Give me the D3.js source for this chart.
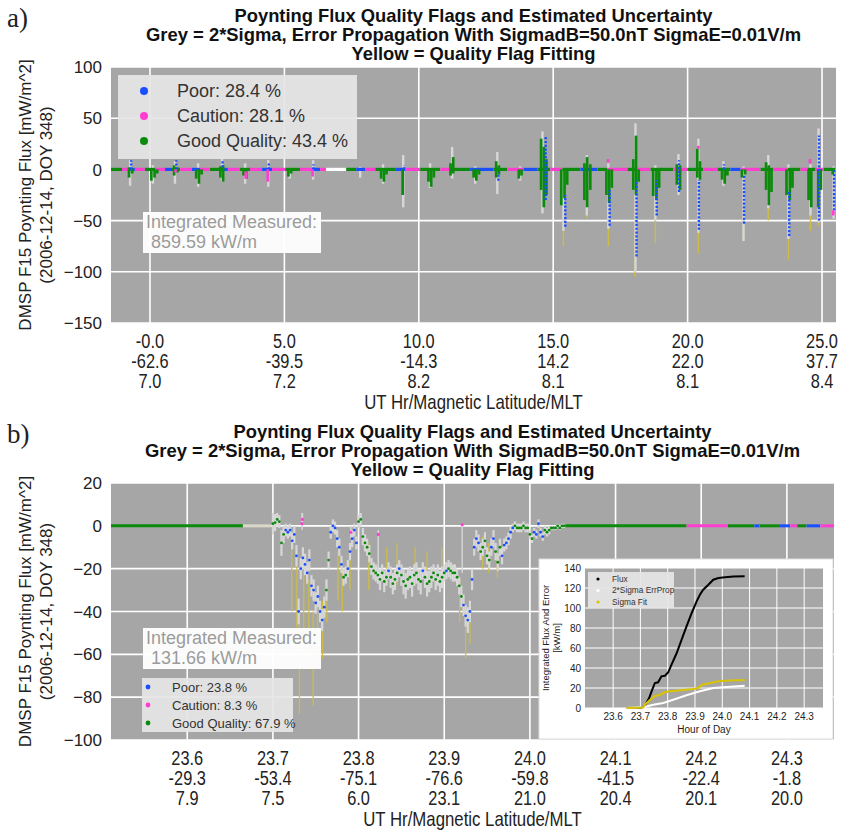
<!DOCTYPE html>
<html><head><meta charset="utf-8">
<script src="https://cdn.jsdelivr.net/npm/d3@7"></script>
<style>
body{margin:0;background:#fff}
text{font-family:"Liberation Sans",Arial,sans-serif}
</style>
</head><body>
<svg id="fig" width="847" height="831"></svg>
<script>
// ---------- shared text ----------
const titleLines = [
  "Poynting Flux Quality Flags and Estimated Uncertainty",
  "Grey = 2*Sigma, Error Propagation With SigmadB=50.0nT SigmaE=0.01V/m",
  "Yellow = Quality Flag Fitting"
];
const yLabelLines = ["DMSP F15 Poynting Flux [mW/m^2]", "(2006-12-14, DOY 348)"];
const xLabel = "UT Hr/Magnetic Latitude/MLT";

// ---------- panel a : full day ----------
const aTicks = [0, 5, 10, 15, 20, 25];
const aTickUT = ["-0.0", "5.0", "10.0", "15.0", "20.0", "25.0"];
const aTickMLat = ["-62.6", "-39.5", "-14.3", "14.2", "22.0", "37.7"];
const aTickMLT = ["7.0", "7.2", "8.2", "8.1", "8.1", "8.4"];
const aYTicks = [100, 50, 0, -50, -100, -150];
const aLegend = ["Poor: 28.4 %", "Caution: 28.1 %", "Good Quality: 43.4 %"];
const aIntegrated = ["Integrated Measured:", "859.59 kW/m"];

// baseline spans along zero: [t0, t1, flag]  flag 0 poor, 1 caution, 2 good, 3 no flag
const aBase = [
 [-1.45,-1.04,2],[-1.04,-0.82,1],[-0.82,-0.56,0],[-0.56,-0.19,1],[-0.19,0.19,2],[0.19,0.56,1],
 [0.56,0.82,0],[0.82,1.12,2],[1.12,1.56,1],[1.56,1.86,0],[1.86,2.23,1],[2.23,2.61,2],
 [2.61,2.90,0],[2.90,3.35,1],[3.35,3.72,2],[3.72,4.17,1],[4.17,4.54,0],[4.54,5.03,1],
 [5.03,5.58,2],[5.58,6.03,1],[6.03,6.33,0],[6.33,6.55,1],[6.55,7.30,3],[7.30,7.67,2],
 [7.67,8.00,0],[8.00,8.38,1],[8.38,9.12,2],[9.12,9.49,0],[9.49,10.05,1],[10.05,10.80,2],
 [10.80,11.17,1],[11.17,11.91,2],[11.91,12.77,0],[12.77,13.29,2],[13.29,13.89,1],[13.89,14.41,0],
 [14.41,14.89,2],[14.89,15.34,1],[15.34,16.01,2],[16.01,16.64,0],[16.64,17.01,2],[17.01,17.76,1],
 [17.76,18.13,2],[18.13,18.62,1],[18.62,19.47,2],[19.47,19.99,1],[19.99,20.59,2],[20.59,21.11,1],
 [21.11,21.59,2],[21.59,21.97,0],[21.97,22.71,1],[22.71,23.19,2],[23.19,23.72,1],[23.72,24.20,2],
 [24.20,24.46,1],[24.46,24.76,2],[24.76,25.06,1],[25.06,25.50,2]
];
// vertical extents of each burst: [t, low, high] in mW/m^2
const aGrey = [
 [-0.74,-16,9],[0.11,-14,4],[0.93,-14,8],[1.79,-17,6],[2.68,-12,11],[3.54,-14,6],[4.40,-17,9],
 [5.20,-9,0],[6.07,-10,9],[7.82,-8,3],[8.67,-14,5],[9.42,-37,14],[10.42,-18,6],[11.24,-9,22],
 [12.10,-14,3],[12.92,-24,17],[13.77,-11,3],[14.60,-43,37],[15.38,-60,0],[16.25,-45,14],
 [17.05,-58,6],[18.06,-100,45],[18.80,-50,4],[19.66,-25,15],[20.40,-62,30],[21.33,-16,8],
 [22.08,-70,3],[23.00,-38,14],[23.75,-68,5],[24.57,-45,5],[24.87,-52,40],[25.43,-48,3]
];
const aFit = [
 [15.38,-75,-40],[16.25,-47,-30],[17.05,-75,-40],[18.04,-105,-60],[18.80,-72,-30],[20.40,-82,-50],
 [22.08,-70,-40],[23.00,-50,-30],[23.75,-88,-50],[24.57,-60,-30],[24.87,-55,-35]
];
const aGood = [
 [-0.78,-8,2],[-0.66,-4,1],[0.05,-11,1],[0.17,-8,0],[0.27,-4,0],[0.90,-6,4],[1.02,-3,2],
 [1.72,-9,0],[1.82,-14,0],[1.92,-5,0],[2.62,-8,3],[2.72,-12,4],[3.48,-6,0],[3.58,-9,0],
 [5.15,-7,0],[5.25,-4,0],[8.60,-9,0],[8.70,-12,0],[8.80,-5,0],[9.40,-25,0],
 [10.36,-12,0],[10.46,-17,0],[10.56,-8,0],[11.18,-6,6],[11.28,-4,12],
 [12.04,-8,0],[12.14,-11,0],[12.24,-5,0],[12.88,-8,8],[12.98,-5,4],[13.72,-9,0],[13.82,-6,0],
 [14.55,-20,30],[14.65,-37,22],[14.75,-25,10],[15.30,-35,0],[15.42,-28,0],[15.52,-15,0],
 [16.16,-30,6],[16.26,-37,12],[16.38,-20,5],[16.98,-25,0],[17.08,-33,0],[17.18,-18,0],
 [17.98,-20,10],[18.08,-25,33],[18.18,-12,0],[18.72,-26,0],[18.84,-30,0],[18.94,-18,0],
 [19.60,-15,5],[19.72,-20,4],[20.36,-8,20],[20.46,-10,8],[21.28,-10,0],[21.38,-14,0],[21.48,-6,0],
 [22.02,-8,0],[22.14,-5,0],[22.92,-20,7],[23.02,-35,4],[23.12,-22,0],
 [23.68,-25,0],[23.80,-30,0],[23.90,-18,0],[24.50,-30,0],[24.60,-37,0],[24.86,-37,0],[24.96,-20,0],
 [25.40,-5,0]
];
const aPoor = [
 [-0.70,0,9],[0.98,0,9],[2.70,2,9],[4.42,0,6],[6.08,0,5],[7.82,-1,3],[9.45,0,4],
 [12.96,-11,-3],[14.72,-30,33],[15.45,-56,-25],[17.10,-55,-20],[18.10,-85,-10],
 [18.85,-45,-10],[19.68,-22,9],[20.42,-59,-10],[21.35,0,5],[22.10,-53,-5],
 [23.78,-65,-20],[24.89,-50,33],[25.45,-40,0]
];
const aCaution = [
 [0.95,-3,0],[3.56,-9,-2],[4.38,-12,0],[6.05,-7,0],[17.04,7,10],[20.40,20,23],[24.55,6,10],[25.42,-45,-40]
];

// ---------- panel b : one pass ----------
const bTicks = [23.6, 23.7, 23.8, 23.9, 24.0, 24.1, 24.2, 24.3];
const bTickUT = ["23.6", "23.7", "23.8", "23.9", "24.0", "24.1", "24.2", "24.3"];
const bTickMLat = ["-29.3", "-53.4", "-75.1", "-76.6", "-59.8", "-41.5", "-22.4", "-1.8"];
const bTickMLT = ["7.9", "7.5", "6.0", "23.1", "21.0", "20.4", "20.1", "20.0"];
const bYTicks = [20, 0, -20, -40, -60, -80, -100];
const bLegend = ["Poor: 23.8 %", "Caution: 8.3 %", "Good Quality: 67.9 %"];
const bIntegrated = ["Integrated Measured:", "131.66 kW/m"];

// sample times of the active stretch (hr), flux (mW/m^2), flag, 2-sigma error
const bStart = 23.700, bStep = 0.0025;
const bFlux = [
 1,1.5,3,2,-8,-4,-2,-3,-2,-7, -4,-14,-40,-20,-15,-18,-22,-16,-28,-30,
 -36,-33,-40,-44,-38,-30,-16,-3,0,-1, -6,-10,-18,-24,-23,-20,-12,-6,-2,-8,
 2,3,-5,-8,-10,-13,-19,-21,-22,-23, -25,-22,-26,-24,-21,-24,-27,-25,-22,-20,
 -23,-26,-28,-25,-24,-27,-23,-22,-25,-26, -21,-24,-27,-26,-24,-22,-25,-23,-26,-24,
 -22,-21,-20,-21,-22,-22,-24,-28,-33,-37, -42,-44,-40,-25,-10,-6,-8,-12,-10,-7,
 -14,-16,-10,-6,-12,-17,-10,-14,-9,-8, -6,-3,-1,0,-1,-1,-1,0,-1,-1,
 -4,-6,-3,-4,1,-3,-5,-2,-3,-2, -1,-1,-1,0,-1,0,0
];
const bFlag = [
 2,2,2,2,2,2,0,0,0,0, 0,0,0,0,0,0,0,0,0,0,
 0,0,0,0,0,2,2,0,0,0, 0,0,0,2,2,0,0,0,0,0,
 2,2,2,2,2,2,2,2,2,2, 2,2,2,2,0,2,2,2,2,0,
 2,2,2,2,2,2,2,2,2,2, 0,2,2,2,2,2,2,2,2,2,
 2,0,2,2,2,2,2,2,2,0, 0,0,0,0,0,0,0,2,2,2,
 2,2,0,0,2,2,2,0,0,0, 0,0,0,2,2,2,2,2,2,2,
 2,2,0,0,0,0,0,2,2,2, 2,2,2,2,2,2,2
];
const bErr = [
 5,4,3,3,6,4,3,3,3,4, 4,5,6,5,5,5,5,5,5,5,
 5,5,5,5,5,5,4,3,3,3, 4,4,4,4,4,4,4,4,3,3,
 3,3,4,4,4,4,4,4,4,4, 5,4,5,4,4,5,5,5,4,4,
 5,6,6,5,5,6,5,5,5,6, 4,5,6,5,5,4,5,5,5,5,
 4,4,4,4,4,4,4,4,5,5, 5,6,5,5,4,4,4,4,4,4,
 4,4,4,4,4,4,4,4,3,3, 3,3,2,2,2,2,2,2,2,2,
 2,2,2,2,2,2,2,2,2,2, 1,1,1,1,1,1,1
];
// flagged-caution samples with their error bar: [t, flux, errLow, errHigh]
const bCaution = [[23.734,1,-2,6],[23.7345,3,0,6],[23.791,-3,-6,0],[23.823,-4,-22,-2],[23.921,0.5,-22,0.5]];
// quality-flag fitting extents: [t, low, high]
const bFit = [
 [23.722,-40,-5],[23.728,-55,-15],[23.731,-88,-40],[23.736,-50,-20],[23.742,-60,-25],[23.747,-84,-40],
 [23.752,-55,-30],[23.758,-62,-35],[23.763,-45,-25],[23.776,-35,-12],[23.781,-40,-20],[23.790,-30,-10],
 [23.812,-30,-8],[23.833,-26,-10],[23.845,-28,-8],[23.866,-25,-10],[23.880,-30,-12],[23.897,-28,-10],
 [23.918,-45,-25],[23.925,-62,-40],[23.930,-55,-35],[23.945,-20,-5],[23.952,-22,-8],[23.962,-24,-10]
];
// quiet stretches along zero: [t0, t1, flag]  (4 = unflagged noise)
const bBase = [
 [23.511,23.665,2],[23.665,23.698,4],[24.040,24.183,2],[24.183,24.231,1],[24.231,24.262,2],
 [24.262,24.268,0],[24.268,24.292,2],[24.292,24.304,0],[24.304,24.312,1],[24.312,24.323,2],
 [24.323,24.339,0],[24.339,24.355,1]
];

// ---------- inset : integrated flux ----------
const iTicksX = [23.6, 23.7, 23.8, 23.9, 24.0, 24.1, 24.2, 24.3];
const iTicksY = [0, 20, 40, 60, 80, 100, 120, 140];
const iLegend = ["Flux", "2*Sigma ErrProp", "Sigma Fit"];
const iFluxT = [23.649,23.700,23.716,23.722,23.732,23.741,23.753,23.765,23.777,23.790,23.802,23.814,23.833,23.851,23.869,23.888,23.906,23.918,23.930,23.949,23.967,23.986,24.010,24.041,24.082];
const iFlux  = [0,0,1.7,5,10,16.7,25,25.7,31.7,32.3,35.7,43.3,55,68.3,81.7,95,106.7,113.3,118.3,123.3,128.3,130,130.7,131.5,131.66];
const iSigT = [23.649,23.710,23.747,23.784,23.820,23.869,23.918,23.967,24.016,24.082];
const iSig  = [0,0.7,3.3,5,8.3,12.7,16.7,20,21,22.3];
const iFitT = [23.649,23.710,23.716,23.735,23.753,23.771,23.790,23.820,23.857,23.894,23.912,23.924,23.955,23.992,24.028,24.082];
const iFit  = [0,0.5,3.3,8,12,13,16,17,18,19,20,23,25,27,27.5,28];

// ---------- drawing ----------
const COL = {poor:"#1a4fff", caution:"#ff3dd0", good:"#0b8a0b", err:"#d7d7d7", fit:"#cdbd45", bg:"#a6a6a6"};
const flagColor = [COL.poor, COL.caution, COL.good, "#ffffff", "#d9d7c8"];
const NARROW = 0.84;   // horizontal squeeze for the condensed axis lettering
const svg = d3.select("#fig");

function narrowText(g, x, y, s, size, opts = {}) {
  return g.append("text")
    .attr("transform", `translate(${x},${y}) scale(${opts.sx || NARROW},1)`)
    .attr("text-anchor", opts.anchor || "middle")
    .attr("font-size", size).attr("font-weight", opts.weight || null)
    .attr("fill", opts.fill || "#222").text(s);
}

function drawFrame(o) {
  const g = svg.append("g");
  const [l, r] = o.x.range(), [b, t] = o.y.range();
  g.append("rect").attr("x", l).attr("y", t).attr("width", r - l).attr("height", b - t).attr("fill", COL.bg);
  g.selectAll(null).data(o.xTicks).join("line")
    .attr("x1", d => o.x(d)).attr("x2", d => o.x(d)).attr("y1", t).attr("y2", b)
    .attr("stroke", "#fff").attr("stroke-width", 1.6);
  g.selectAll(null).data(o.yTicks).join("line")
    .attr("x1", l).attr("x2", r).attr("y1", d => o.y(d)).attr("y2", d => o.y(d))
    .attr("stroke", "#fff").attr("stroke-width", 1.6);
  // y tick labels
  g.selectAll(null).data(o.yTicks).join("text")
    .attr("x", l - 9).attr("y", d => o.y(d)).attr("dy", "0.36em").attr("text-anchor", "end")
    .attr("font-size", 17).attr("fill", "#222").text(d => String(d).replace("-", "\u2212"));
  // three-row x tick labels
  [o.ut, o.mlat, o.mlt].forEach((row, k) => {
    o.xTicks.forEach((d, i) => narrowText(g, o.x(d), b + 25 + k * 20, row[i], 19.5));
  });
  narrowText(g, (l + r) / 2, b + 86, xLabel, 20);
  // y label
  const cy = (t + b) / 2;
  yLabelLines.forEach((s, k) => {
    g.append("text").attr("transform", `translate(${31 + k * 21},${cy}) rotate(-90)`)
      .attr("text-anchor", "middle").attr("font-size", 17).attr("fill", "#222").text(s);
  });
  // titles
  const widths = [478, 655, 244];
  titleLines.forEach((s, k) => {
    g.append("text").attr("x", (l + r) / 2).attr("y", t - 45 + k * 19).attr("text-anchor", "middle")
      .attr("font-weight", "bold").attr("font-size", 18.5).attr("fill", "#111")
      .attr("textLength", widths[k]).attr("lengthAdjust", "spacingAndGlyphs").text(s);
  });
  g.append("text").attr("x", 7).attr("y", t - 40)
    .style("font-family", "'Liberation Serif','DejaVu Serif',serif")
    .attr("font-size", 27).attr("fill", "#222").text(o.letter);
}

function clipFor(id, x, y) {
  const [l, r] = x.range(), [b, t] = y.range();
  svg.append("clipPath").attr("id", id).append("rect")
    .attr("x", l).attr("y", t).attr("width", r - l).attr("height", b - t);
  return svg.append("g").attr("clip-path", `url(#${id})`);
}

function streaks(g, data, x, y, color, width, dash) {
  g.selectAll(null).data(data).join("line")
    .attr("x1", d => x(d[0])).attr("x2", d => x(d[0]))
    .attr("y1", d => y(d[1])).attr("y2", d => y(d[2]))
    .attr("stroke", color).attr("stroke-width", width)
    .attr("stroke-dasharray", dash || null);
}

function baseline(g, data, x, y, width) {
  g.selectAll(null).data(data).join("line")
    .attr("x1", d => x(d[0])).attr("x2", d => x(d[1]))
    .attr("y1", y(0)).attr("y2", y(0))
    .attr("stroke", d => flagColor[d[2]]).attr("stroke-width", width);
}

function legendBox(x0, y0, w, h, labels, fs, rowY, dotX, textX, r) {
  const g = svg.append("g");
  g.append("rect").attr("x", x0).attr("y", y0).attr("width", w).attr("height", h)
    .attr("fill", "#e5e5e5").attr("fill-opacity", 0.93);
  labels.forEach((s, k) => {
    g.append("circle").attr("cx", dotX).attr("cy", rowY[k]).attr("r", r)
      .attr("fill", [COL.poor, COL.caution, COL.good][k]);
    g.append("text").attr("x", textX).attr("y", rowY[k]).attr("dy", "0.36em")
      .attr("font-size", fs).attr("fill", "#333").text(s);
  });
}

function integratedBox(x0, y0, lines) {
  const g = svg.append("g");
  g.append("rect").attr("x", x0).attr("y", y0).attr("width", 178).attr("height", 41)
    .attr("fill", "#fff").attr("fill-opacity", 0.95);
  g.append("text").attr("x", x0 + 3).attr("y", y0 + 16).attr("font-size", 18).attr("fill", "#9b9b9b").text(lines[0]);
  g.append("text").attr("x", x0 + 8).attr("y", y0 + 36).attr("font-size", 18).attr("fill", "#9b9b9b").text(lines[1]);
}

// ----- panel a -----
const xA = d3.scaleLinear().domain([-1.45, 25.52]).range([111, 836]);
const yA = d3.scaleLinear().domain([-150, 100]).range([323, 67]);
drawFrame({x: xA, y: yA, xTicks: aTicks, yTicks: aYTicks, ut: aTickUT, mlat: aTickMLat, mlt: aTickMLT, letter: "a)"});
const gA = clipFor("clipA", xA, yA);
streaks(gA, aFit, xA, yA, COL.fit, 1.4);
streaks(gA, aGrey, xA, yA, COL.err, 2.4);
baseline(gA, aBase, xA, yA, 3.2);
streaks(gA, aGood, xA, yA, COL.good, 2.7);
streaks(gA, aPoor, xA, yA, COL.poor, 2.4, "2.2,1.6");
streaks(gA, aCaution, xA, yA, COL.caution, 2.6);
legendBox(118, 75, 239, 84, aLegend, 18, [91, 116, 141], 144, 177, 4);
integratedBox(143, 212, aIntegrated);

// ----- panel b -----
const xB = d3.scaleLinear().domain([23.511, 24.355]).range([111, 834]);
const yB = d3.scaleLinear().domain([-100, 20]).range([740, 483]);
drawFrame({x: xB, y: yB, xTicks: bTicks, yTicks: bYTicks, ut: bTickUT, mlat: bTickMLat, mlt: bTickMLT, letter: "b)"});
const gB = clipFor("clipB", xB, yB);
const bPts = bFlux.map((v, i) => ({t: bStart + i * bStep, v, f: bFlag[i], e: bErr[i]}));
baseline(gB, bBase, xB, yB, 3);
streaks(gB, bFit, xB, yB, COL.fit, 1.3);
streaks(gB, bPts.map(p => [p.t, p.v - p.e, p.v + p.e]), xB, yB, COL.err, 2.2);
streaks(gB, bCaution.map(c => [c[0], c[2], c[3]]), xB, yB, COL.err, 1.4);
gB.selectAll(null).data(bPts).join("circle")
  .attr("cx", d => xB(d.t)).attr("cy", d => yB(d.v)).attr("r", 1.4)
  .attr("fill", d => flagColor[d.f]);
gB.selectAll(null).data(bCaution).join("circle")
  .attr("cx", d => xB(d[0])).attr("cy", d => yB(d[1])).attr("r", 1.6).attr("fill", COL.caution);
integratedBox(143, 628, bIntegrated);
legendBox(142, 678, 151, 54, bLegend, 13, [687, 705, 723], 148, 172, 2.4);

// ----- inset -----
const xI = d3.scaleLinear().domain([23.497, 24.369]).range([585, 823]);
const yI = d3.scaleLinear().domain([0, 140]).range([708, 568]);
const gi = svg.append("g");
gi.append("rect").attr("x", 539).attr("y", 559).attr("width", 294).attr("height", 180)
  .attr("fill", "#fff").attr("stroke", "#ddd").attr("stroke-width", 1);
gi.append("rect").attr("x", 585).attr("y", 568).attr("width", 238).attr("height", 140).attr("fill", COL.bg);
gi.selectAll(null).data(iTicksX).join("line")
  .attr("x1", d => xI(d)).attr("x2", d => xI(d)).attr("y1", 568).attr("y2", 708)
  .attr("stroke", "#fff").attr("stroke-width", 1);
gi.selectAll(null).data(iTicksY).join("line")
  .attr("x1", 585).attr("x2", 823).attr("y1", d => yI(d)).attr("y2", d => yI(d))
  .attr("stroke", "#fff").attr("stroke-width", 1);
gi.selectAll(null).data(iTicksX).join("text")
  .attr("x", d => xI(d)).attr("y", 720).attr("text-anchor", "middle")
  .attr("font-size", 10).attr("fill", "#222").text(d => d.toFixed(1));
gi.selectAll(null).data(iTicksY).join("text")
  .attr("x", 581).attr("y", d => yI(d)).attr("dy", "0.36em").attr("text-anchor", "end")
  .attr("font-size", 10).attr("fill", "#222").text(d => d);
gi.append("text").attr("x", 704).attr("y", 733).attr("text-anchor", "middle")
  .attr("font-size", 10).attr("fill", "#222").text("Hour of Day");
gi.append("text").attr("transform", "translate(549,638) rotate(-90)").attr("text-anchor", "middle")
  .attr("font-size", 9.5).attr("fill", "#222").text("Integrated Flux And Error");
gi.append("text").attr("transform", "translate(560,638) rotate(-90)").attr("text-anchor", "middle")
  .attr("font-size", 9.5).attr("fill", "#222").text("[kW/m]");
const line = d3.line().x(d => xI(d[0])).y(d => yI(d[1]));
gi.append("path").attr("d", line(d3.zip(iFluxT, iFlux))).attr("fill", "none").attr("stroke", "#000").attr("stroke-width", 2);
gi.append("path").attr("d", line(d3.zip(iSigT, iSig))).attr("fill", "none").attr("stroke", "#fff").attr("stroke-width", 2);
gi.append("path").attr("d", line(d3.zip(iFitT, iFit))).attr("fill", "none").attr("stroke", "#d8c400").attr("stroke-width", 2.2);
gi.append("rect").attr("x", 588).attr("y", 572).attr("width", 86).attr("height", 36).attr("fill", "#e5e5e5").attr("fill-opacity", 0.93);
iLegend.forEach((s, k) => {
  const yy = 579 + k * 11.5;
  gi.append("circle").attr("cx", 598).attr("cy", yy).attr("r", 1.6).attr("fill", ["#000", "#fff", "#d8c400"][k]);
  gi.append("text").attr("x", 612).attr("y", yy).attr("dy", "0.36em").attr("font-size", 8.3).attr("fill", "#333").text(s);
});
</script>
</body></html>
